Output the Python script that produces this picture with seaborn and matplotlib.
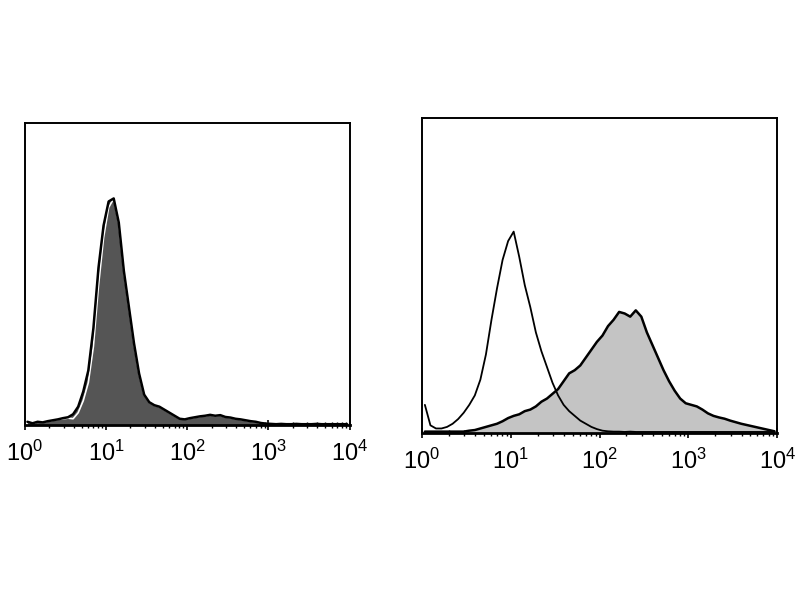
import numpy as np
import matplotlib
matplotlib.use("Agg")
import matplotlib.pyplot as plt
import matplotlib.ticker as mticker
import seaborn as sns

# 64 channels over 4 log decades (0.0625 decade per channel)
n_bins = 64
log_centers = (np.arange(n_bins) + 0.5) * 4.0 / n_bins

# left panel: stained sample (filled, dark) and control (open, drawn in white)
left_stained = [1.0, 0.5, 1.0, 0.8, 1.2, 1.5, 1.8, 2.2, 2.5, 3.5, 6, 11, 18, 32, 52, 66,
                74, 75, 67, 51, 39, 27, 17, 10, 7.5, 6.5, 6, 5, 4, 3, 2, 1.8,
                2.2, 2.5, 2.8, 3, 3.3, 3, 3.2, 2.6, 2.4, 2, 1.8, 1.5, 1.2, 1, 0.6, 0.4,
                0.3, 0.2, 0.3, 0.2, 0.2, 0.3, 0.2, 0.2, 0.2, 0.3, 0.2, 0.2, 0.2, 0.2, 0.2, 0.2]
left_control = [1.0, 0.5, 1.0, 0.8, 1.2, 1.5, 1.8, 2.0, 2.2, 2.0, 4, 8, 14, 26, 46, 62,
                72, 75, 67, 51, 39, 27, 17, 10, 7.5, 6.5, 6, 5, 4, 3, 2, 1.8,
                2.2, 2.5, 2.8, 3, 3.3, 3, 3.2, 2.6, 2.4, 2, 1.8, 1.5, 1.2, 1, 0.6, 0.4,
                0.3, 0.2, 0.3, 0.2, 0.2, 0.3, 0.2, 0.2, 0.2, 0.3, 0.2, 0.2, 0.2, 0.2, 0.2, 0.2]

# right panel: control (open) and stained sample (filled, light gray)
right_control = [9, 2.5, 1.5, 1.5, 2, 3, 4.5, 6.5, 9, 12, 17, 25, 36, 46, 55, 61,
                 64, 56, 47, 40, 32, 26, 21, 16, 12, 9, 7, 5.5, 4, 3, 2, 1.3,
                 0.8, 0.6, 0.5, 0.5, 0.4, 0.5, 0.4, 0.4, 0.4, 0.4, 0.4, 0.4, 0.4, 0.4, 0.4, 0.4,
                 0.4, 0.4, 0.4, 0.4, 0.4, 0.4, 0.4, 0.4, 0.4, 0.4, 0.4, 0.4, 0.4, 0.4, 0.4, 0.4]
right_stained = [0.5, 0.5, 0.5, 0.5, 0.5, 0.5, 0.5, 0.5, 0.8, 1, 1.5, 2, 2.5, 3, 3.8, 4.8,
                 5.5, 6, 7, 7.5, 8.5, 10, 11, 12.5, 14, 16.5, 19, 20, 21.5, 24, 26.5, 29,
                 31, 34, 36, 38.5, 38, 37, 39, 37, 32, 28, 24, 20, 16.5, 13.5, 11, 9.5,
                 9, 8.5, 7.5, 6.3, 5.5, 5, 4.6, 4, 3.5, 3, 2.6, 2.2, 1.8, 1.4, 1, 0.6]

tick_exponents = [0, 1, 2, 3, 4]

sns.set_style("white")
plt.rcParams["font.family"] = ["Liberation Sans", "DejaVu Sans"]

fig = plt.figure(figsize=(8, 6), dpi=100)
ax_left = fig.add_axes([0.031, 0.292, 0.406, 0.503])
ax_right = fig.add_axes([0.5275, 0.278, 0.444, 0.525])

x_vals = 10 ** log_centers
hist_kw = dict(bins=n_bins, binrange=(0, 4), log_scale=True, element="poly", stat="count")

# left panel
sns.histplot(x=x_vals, weights=left_stained, fill=True, color="#555555", alpha=1,
             linewidth=0, ax=ax_left, **hist_kw)
sns.histplot(x=x_vals, weights=left_control, fill=False, color="white", linewidth=1.2,
             ax=ax_left, **hist_kw)
sns.histplot(x=x_vals, weights=left_stained, fill=False, color="black", linewidth=1.8,
             ax=ax_left, **hist_kw)

# right panel
sns.histplot(x=x_vals, weights=right_stained, fill=True, color="#c4c4c4", alpha=1,
             linewidth=0, ax=ax_right, **hist_kw)
sns.histplot(x=x_vals, weights=right_stained, fill=False, color="black", linewidth=1.8,
             ax=ax_right, **hist_kw)
sns.histplot(x=x_vals, weights=right_control, fill=False, color="black", linewidth=1.3,
             ax=ax_right, **hist_kw)

for ax in (ax_left, ax_right):
    ax.set_xlim(1, 10 ** 4)
    ax.set_ylim(0, 100)
    ax.set_xlabel("")
    ax.set_ylabel("")
    ax.set_yticks([])
    ax.set_xticks([10 ** e for e in tick_exponents])
    ax.set_xticklabels([r"$\mathregular{10^{%d}}$" % e for e in tick_exponents],
                       fontsize=17, color="black")
    ax.xaxis.set_minor_locator(mticker.LogLocator(base=10, subs=np.arange(2, 10)))
    ax.xaxis.set_minor_formatter(mticker.NullFormatter())
    ax.tick_params(axis="x", which="major", direction="inout", length=7, width=1.2,
                   color="black", pad=8, bottom=True)
    ax.tick_params(axis="x", which="minor", direction="inout", length=4, width=1,
                   color="black", bottom=True)
    for spine in ax.spines.values():
        spine.set_visible(True)
        spine.set_color("black")
        spine.set_linewidth(1.4)
    ax.spines["bottom"].set_linewidth(2)

fig.savefig("out.png", dpi=100, facecolor="white")
